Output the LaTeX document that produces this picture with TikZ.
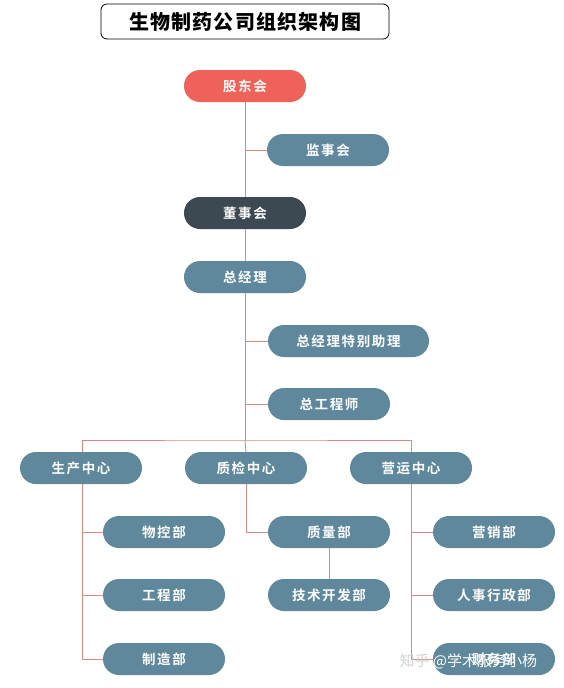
\documentclass[tikz,border=0pt]{standalone}
\usepackage{fontspec}
\newfontfamily\cjk{Noto Sans CJK SC}
\newfontfamily\cjkb[LetterSpace=12]{Noto Sans CJK SC Bold}
\newfontfamily\cjkt[LetterSpace=6]{Noto Sans CJK SC Black}
\definecolor{nodeblue}{HTML}{5F889C}
\definecolor{dark}{HTML}{3C4852}
\definecolor{salmon}{HTML}{EF6259}
\definecolor{linec}{HTML}{D98A84}
\begin{document}
\begin{tikzpicture}[x=1pt,y=-1pt,
  box/.style={rounded corners=16pt,minimum width=122pt,minimum height=32pt,fill=nodeblue,text=white,font=\cjkb\fontsize{13.5}{13.5}\selectfont,inner sep=0pt},
  wbox/.style={box,minimum width=161pt},
  conn/.style={draw=linec,line width=0.9pt}]
\useasboundingbox (0,0) rectangle (564,688);
\fill[white] (0,0) rectangle (564,688);
\node[draw=black,line width=0.8pt,rounded corners=6pt,minimum width=288pt,minimum height=35pt,inner sep=0pt,font=\cjkt\fontsize{20}{20}\selectfont] (title) at (245,21.5) {生物制药公司组织架构图};
\node[box,fill=salmon] (gd) at (245,86) {股东会};
\node[box] (js) at (328,150) {监事会};
\node[box,fill=dark] (ds) at (245,213) {董事会};
\node[box] (zjl) at (245,277) {总经理};
\node[wbox] (zl) at (348.5,341) {总经理特别助理};
\node[box] (zgcs) at (329,404) {总工程师};
\node[box] (sc) at (81,468) {生产中心};
\node[box] (zj) at (246,468) {质检中心};
\node[box] (yy) at (411,468) {营运中心};
\node[box] (wk) at (164,532) {物控部};
\node[box] (gc) at (164,595) {工程部};
\node[box] (zz) at (164,659) {制造部};
\node[box] (zl2) at (329,532) {质量部};
\node[box] (js2) at (329,595) {技术开发部};
\node[box] (yx) at (494,532) {营销部};
\node[box] (rs) at (494,595) {人事行政部};
\node[box] (cw) at (494,659) {财务部};
% connectors
\coordinate (bus) at (245,440);
\draw[conn] (gd.south) -- (ds.north);
\draw[conn] (gd.south |- js.west) -- (js.west);
\draw[conn] (ds.south) -- (zjl.north);
\draw[conn] (zjl.south) -- (bus);
\draw[conn] (zjl.south |- zl.west) -- (zl.west);
\draw[conn] (zjl.south |- zgcs.west) -- (zgcs.west);
\draw[conn] (sc.north -| 82,0) |- (bus) -| (yy.north);
\draw[conn] (bus) -- (zj.north);
\draw[conn] (82,484) |- (wk.west);
\draw[conn] (82,484) |- (gc.west);
\draw[conn] (82,484) |- (zz.west);
\draw[conn] (zj.south) |- (zl2.west);
\draw[conn] (zl2.south) -- (js2.north);
\draw[conn] (yy.south) |- (yx.west);
\draw[conn] (yy.south) |- (rs.west);
\draw[conn] (yy.south) |- (cw.west);
\node[text=white,font=\cjk\fontsize{15}{15}\selectfont,anchor=west] (wm) at (396,661) {{\color{gray!35}知乎} @学术服务小杨};
\end{tikzpicture}
\end{document}
